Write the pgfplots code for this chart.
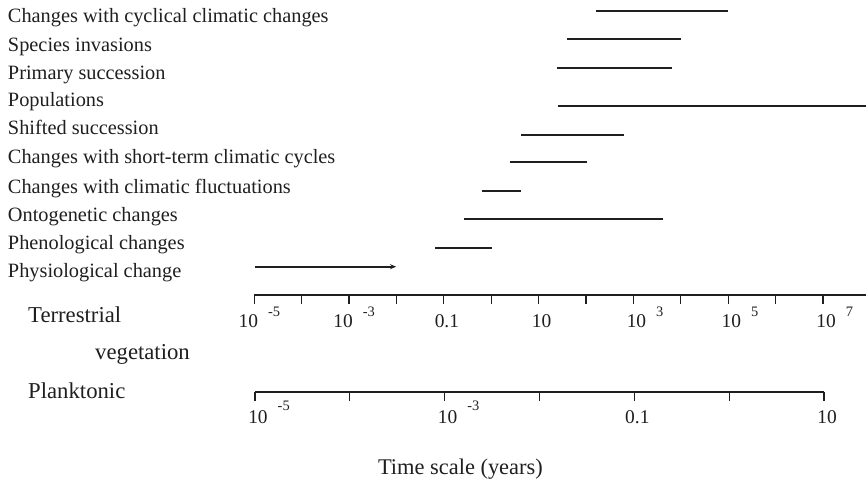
\documentclass[border=0pt]{standalone}
\usepackage{fontspec}
\setmainfont{Liberation Serif}
\usepackage{pgfplots}
\pgfplotsset{compat=1.18}
\usetikzlibrary{arrows.meta}
\definecolor{ink}{gray}{0.12}
\pgfplotsset{rangebar/.style={draw=ink, line width=2.2bp, solid, mark=none}}
\newcommand{\pw}[2]{10\rlap{\hspace{10bp}\raisebox{#2}{\fontsize{14.5}{14.5}\selectfont #1}}}
\begin{document}
\begin{tikzpicture}
\useasboundingbox (0,0) rectangle (866bp,479bp);
% ---------- bars + terrestrial axis ----------
\begin{axis}[
  at={(254.3bp,184bp)}, anchor=south west,
  scale only axis, width=611.7bp, height=295bp,
  xmode=log, log basis x=10,
  xmin=1e-5, xmax=8.04e7, ymin=184, ymax=479,
  axis x line=bottom, axis y line=left,
  axis line style={-},
  x axis line style={-, line width=1.4bp, draw=ink},
  y axis line style={draw=none},
  ytick style={draw=none},
  minor tick style={draw=none},
  xtick={1e-5,1e-4,1e-3,1e-2,1e-1,1,1e1,1e2,1e3,1e4,1e5,1e6,1e7},
  xticklabels={{\hspace*{-18bp}\pw{-5}{11bp}},{},{\hspace*{-18bp}\pw{-3}{11bp}},{},0.1,{},10,{},\pw{3}{11bp},{},\pw{5}{11bp},{},\pw{7}{11bp}},
  xtick align=outside, major tick length=9bp,
  x tick style={line width=1.2bp, draw=ink},
  xticklabel style={font=\fontsize{19.5}{21}\selectfont, anchor=base, yshift=-24bp, xshift=3bp, text=ink},
  ytick={456.3,427.3,399,372.3,344,315.7,285,257.3,229,201.7},
  yticklabels={Changes with cyclical climatic changes, Species invasions, Primary succession, Populations, Shifted succession, Changes with short-term climatic cycles, Changes with climatic fluctuations, Ontogenetic changes, Phenological changes, Physiological change},
  yticklabel style={font=\fontsize{20.4}{22}\selectfont, anchor=base west, inner sep=0pt, xshift=-242bp, text=ink},
  clip=false,
]
\addplot[rangebar] coordinates {(162,468) (1e5,468)};
\addplot[rangebar] coordinates {(40,440) (1e4,440)};
\addplot[rangebar] coordinates {(24.5,410.7) (6500,410.7)};
\addplot[rangebar] coordinates {(26,373) (8.04e7,373)};
\addplot[rangebar] coordinates {(4.3,344.3) (630,344.3)};
\addplot[rangebar] coordinates {(2.5,316.7) (105,316.7)};
\addplot[rangebar] coordinates {(0.63,288) (4.3,288)};
\addplot[rangebar] coordinates {(0.26,259.7) (4170,259.7)};
\addplot[rangebar] coordinates {(0.065,230.7) (1.02,230.7)};
\addplot[rangebar, -{Stealth[length=6bp,width=5bp]}] coordinates {(1.02e-5,212.3) (0.0098,212.3)};
\end{axis}
% ---------- planktonic axis ----------
\begin{axis}[
  at={(255bp,87bp)}, anchor=south west,
  scale only axis, width=569bp, height=10bp,
  xmode=log, log basis x=10,
  xmin=1e-5, xmax=10, ymin=0, ymax=1,
  axis x line=bottom, hide y axis,
  axis line style={-},
  x axis line style={-, line width=1.4bp, draw=ink},
  minor tick style={draw=none},
  xtick={1e-5,1e-4,1e-3,1e-2,1e-1,1,1e1},
  xticklabels={\pw{-5}{13bp},{},\pw{-3}{13bp},{},0.1,{},10},
  xtick align=outside, major tick length=9bp,
  x tick style={line width=1.2bp, draw=ink},
  xticklabel style={font=\fontsize{19.5}{21}\selectfont, anchor=base, yshift=-22bp, xshift=3bp, text=ink},
  xlabel={Time scale (years)},
  xlabel style={at={(rel axis cs:0.361,0)}, anchor=base, yshift=-82.3bp, font=\fontsize{22.5}{24}\selectfont, text=ink},
]
\end{axis}
% ---------- axis names ----------
\node[anchor=base west, inner sep=0pt, font=\fontsize{22.8}{24}\selectfont, text=ink] at (28bp,156.3bp) {Terrestrial};
\node[anchor=base west, inner sep=0pt, font=\fontsize{22.8}{24}\selectfont, text=ink] at (95bp,119bp) {vegetation};
\node[anchor=base west, inner sep=0pt, font=\fontsize{22.8}{24}\selectfont, text=ink] at (28bp,80.7bp) {Planktonic};
\end{tikzpicture}
\end{document}
